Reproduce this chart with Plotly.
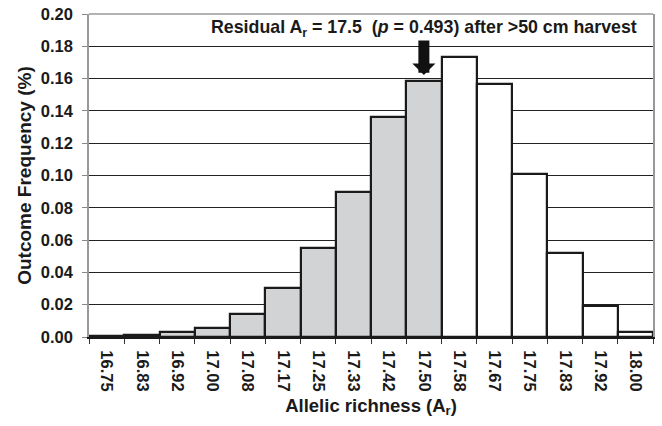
import plotly.graph_objects as go

categories = ["16.75", "16.83", "16.92", "17.00", "17.08", "17.17", "17.25", "17.33",
              "17.42", "17.50", "17.58", "17.67", "17.75", "17.83", "17.92", "18.00"]
frequency = [0.0004, 0.0010, 0.0030, 0.0056, 0.0142, 0.0302, 0.0553, 0.0898,
             0.1364, 0.1587, 0.1736, 0.1567, 0.1011, 0.0520, 0.0194, 0.0033]
# bars at or below the residual value are shaded
residual_label = "17.50"
shaded_until = categories.index(residual_label)

colors = ["#d2d3d5" if i <= shaded_until else "#ffffff" for i in range(len(categories))]

font_family = "Liberation Sans, Arial, sans-serif"

fig = go.Figure()
fig.add_trace(go.Bar(
    x=categories, y=frequency,
    marker=dict(color=colors, line=dict(color="#1a1a1a", width=2.2)),
    width=1.0,
    hoverinfo="x+y",
))

fig.update_layout(
    width=662, height=426,
    margin=dict(l=89, r=9, t=14, b=89),
    paper_bgcolor="white", plot_bgcolor="white",
    showlegend=False,
    bargap=0,
    font=dict(family=font_family, color="#1a1a1a"),
    xaxis=dict(
        type="category",
        automargin=False,
        range=[-0.5, len(categories) - 0.5],
        tickangle=90,
        tickson="boundaries",
        ticks="outside", ticklen=5, tickcolor="#333333", tickwidth=1,
        ticklabelstandoff=8,
        showline=True, linecolor="#1a1a1a", linewidth=2,
        showgrid=False,
        tickfont=dict(size=16.5, family=font_family, weight="bold"),
        title=dict(text="<b>Allelic richness (A<sub>r</sub>)</b>", font=dict(size=18.5), standoff=8),
    ),
    yaxis=dict(
        automargin=False,
        range=[0, 0.20],
        dtick=0.02,
        tickformat=".2f",
        ticks="outside", ticklen=5, tickcolor="#888888",
        ticklabelstandoff=6,
        ticklabeloverflow="allow",
        showline=True, linecolor="#999999", linewidth=1.5, mirror=True,
        showgrid=True, gridcolor="#222222", gridwidth=1,
        zeroline=False,
        tickfont=dict(size=16.5, family=font_family, weight="bold"),
        title=dict(text="<b>Outcome Frequency (%)</b>", font=dict(size=19), standoff=4),
    ),
)

# gray top border
fig.add_shape(type="line", xref="paper", yref="paper", x0=0, x1=1, y0=1, y1=1,
              line=dict(color="#999999", width=1.5))

fig.add_annotation(
    x=shaded_until, xref="x", y=0.1913, yref="y",
    text="<b>Residual A<sub>r</sub> = 17.5  (<i>p</i> = 0.493) after >50 cm harvest</b>",
    showarrow=False, font=dict(size=17.8, family=font_family, color="#1a1a1a"),
    xanchor="center", yanchor="middle",
)

fig.add_annotation(
    x=shaded_until, y=frequency[shaded_until] + 0.0035, xref="x", yref="y",
    ax=0, ay=-36,
    text="", showarrow=True, standoff=0,
    arrowhead=1, arrowsize=0.35, arrowwidth=11, arrowcolor="#111111",
)

# remove the default page margin so the figure sits at the window's corner
fig.write_html("out.html", config={"displayModeBar": False},
               post_script="document.body.style.margin='0';")
